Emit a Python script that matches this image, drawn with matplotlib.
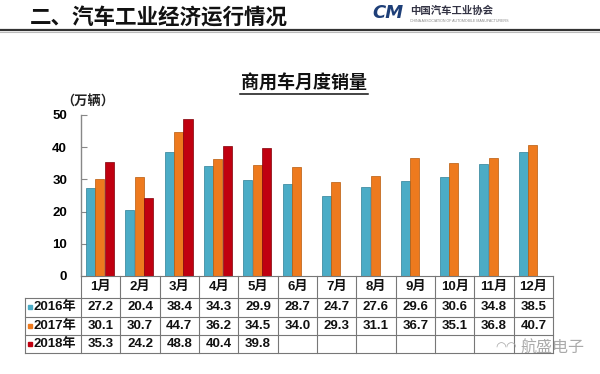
import matplotlib
matplotlib.use("Agg")
import matplotlib.pyplot as plt
import matplotlib.transforms as mtransforms
import numpy as np

plt.rcParams['font.family'] = ['Liberation Sans', 'Noto Sans CJK SC', 'DejaVu Sans']

months = ['1月', '2月', '3月', '4月', '5月', '6月', '7月', '8月', '9月', '10月', '11月', '12月']
years = ['2016年', '2017年', '2018年']
sales_2016 = [27.2, 20.4, 38.4, 34.3, 29.9, 28.7, 24.7, 27.6, 29.6, 30.6, 34.8, 38.5]
sales_2017 = [30.1, 30.7, 44.7, 36.2, 34.5, 34.0, 29.3, 31.1, 36.7, 35.1, 36.8, 40.7]
sales_2018 = [35.3, 24.2, 48.8, 40.4, 39.8]
series = [sales_2016, sales_2017, sales_2018]
colors = ['#4BACC6', '#EE7A1E', '#C00010']
edges = ['#2E7F96', '#B85A0A', '#800008']

W, H = 600, 374
fig = plt.figure(figsize=(W / 100, H / 100), dpi=100)
fig.patch.set_facecolor('white')

def fx(px):
    return px / W

def fy(py):
    return 1 - py / H

# slide header
fig.text(fx(30), fy(19), '二、汽车工业经济运行情况', fontsize=15.5, fontweight='bold',
         va='center', ha='left', color='#111111')
fig.add_artist(plt.Line2D([0, 1], [fy(30), fy(30)], color='#333333', lw=1.6))
fig.add_artist(plt.Line2D([0, 1], [fy(31.8), fy(31.8)], color='#bbbbbb', lw=0.8))
fig.text(fx(388), fy(13), 'CM', fontsize=13, fontweight='bold', style='italic',
         color='#1E3F78', ha='center', va='center', family='DejaVu Sans')
fig.text(fx(410), fy(11), '中国汽车工业协会', fontsize=7.5, fontweight='bold',
         color='#333344', ha='left', va='center')
fig.text(fx(410), fy(20.5), 'CHINA ASSOCIATION OF AUTOMOBILE MANUFACTURERS', fontsize=2.6,
         color='#888888', ha='left', va='center')

# chart title
fig.text(fx(304), fy(84), '商用车月度销量', fontsize=13, fontweight='bold',
         ha='center', va='center', color='#111111')
fig.add_artist(plt.Line2D([fx(240), fx(368)], [fy(93.5), fy(93.5)], color='#111111', lw=1.1))
fig.text(fx(88), fy(102), '（万辆）', fontsize=9.5, fontweight='bold',
         ha='center', va='center', color='#222222')

ax_top, ax_bot = 115, 276
ax_l, ax_r = 81, 553
ax = fig.add_axes([fx(ax_l), fy(ax_bot), (ax_r - ax_l) / W, (ax_bot - ax_top) / H])
ax.set_xlim(0, 12)
ax.set_ylim(0, 50)

x = np.arange(12)
offsets = [0.24, 0.48, 0.72]
bw = 0.23
for vals, off, c, e in zip(series, offsets, colors, edges):
    ax.bar(x[:len(vals)] + off, vals, bw, color=c, edgecolor=e, linewidth=0.5, zorder=2)

for s in ['top', 'right']:
    ax.spines[s].set_visible(False)
ax.spines['left'].set_color('#888888')
ax.spines['bottom'].set_color('#777777')
ax.spines['left'].set_linewidth(1.0)
ax.spines['bottom'].set_linewidth(0.8)
ax.set_yticks(range(0, 51, 10))
ax.tick_params(axis='y', direction='in', length=4, width=0.8, color='#888888',
               labelsize=9.5, pad=10)
for lbl in ax.get_yticklabels():
    lbl.set_fontweight('bold')
ax.set_xticks([])

# data table below the axis (row boundaries in pixels below the axis)
tr = mtransforms.blended_transform_factory(ax.transData, ax.transAxes)
ax_h = ax_bot - ax_top
row_px = [276, 298, 316.5, 335, 353]
row_y = [-(p - ax_bot) / ax_h for p in row_px]
lc = '#777777'
lw = 0.8
xl = -56 / ((ax_r - ax_l) / 12)
for yy in row_y[1:]:
    ax.plot([xl, 12], [yy, yy], color=lc, lw=lw, transform=tr, clip_on=False)
for k in range(13):
    ax.plot([k, k], [0, row_y[-1]], color=lc, lw=lw, transform=tr, clip_on=False)
ax.plot([xl, xl], [row_y[1], row_y[-1]], color=lc, lw=lw, transform=tr, clip_on=False)

tkw = dict(fontsize=9.5, fontweight='bold', ha='center', va='center', transform=tr, color='#111111')
for k, m in enumerate(months):
    ax.text(k + 0.5, (row_y[0] + row_y[1]) / 2, m, **tkw)
for r, (yr, vals, c) in enumerate(zip(years, series, colors)):
    yc = (row_y[r + 1] + row_y[r + 2]) / 2
    ax.plot([xl + 0.12], [yc], marker='s', ms=3.5, color=c, mec=c, transform=tr, clip_on=False)
    ax.text(xl + 0.22, yc, yr, fontsize=9.5, fontweight='bold', ha='left', va='center',
            transform=tr, color='#111111')
    for k, v in enumerate(vals):
        ax.text(k + 0.5, yc, f'{v:.1f}', **tkw)

# watermark
fig.text(fx(506), fy(348), '◠◠', fontsize=9, color='#aaaaaa', ha='center', va='center',
         family='DejaVu Sans')
fig.text(fx(552), fy(348), '航盛电子', fontsize=11.5, color='#aaaaaa', ha='center', va='center')

fig.savefig('out.png', dpi=100, facecolor='white')
